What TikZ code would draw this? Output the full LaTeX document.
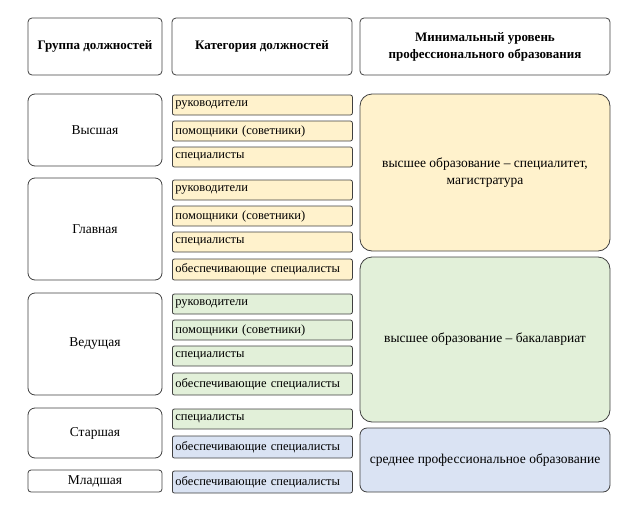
\documentclass[tikz,border=0pt]{standalone}
\usepackage{fontspec}
\setmainfont{Liberation Serif}
\definecolor{ylw}{HTML}{FFF2CC}
\definecolor{grn}{HTML}{E2F0D9}
\definecolor{blu}{HTML}{DAE3F3}
\definecolor{edge}{HTML}{404040}
\tikzset{
  box/.style={draw=edge, line width=0.8pt, rounded corners=3pt, inner sep=0pt, align=center},
  head/.style={box, font=\bfseries\fontsize{13}{17}\selectfont, rounded corners=4pt},
  grp/.style={box, rounded corners=7pt, fill=white},
  cat/.style={box, rounded corners=2pt, anchor=west, minimum width=180pt, minimum height=20pt, inner xsep=3pt, text width=174pt, align=left, font=\fontsize{12.5}{15}\selectfont},
  edu/.style={box, rounded corners=12pt, minimum width=250pt}
}
\begin{document}
\begin{tikzpicture}[x=1pt, y=-1pt, font=\fontsize{13.5}{17}\selectfont]
\useasboundingbox (0,0) rectangle (624,509);
% headers
\node[head, minimum width=134pt, minimum height=57pt] (hgroup) at (95,46.5) {Группа должностей};
\node[head, minimum width=180pt, minimum height=57pt] (hcat) at (262,46.5) {Категория должностей};
\node[head, minimum width=250pt, minimum height=57pt] (hedu) at (485,46.5) {Минимальный уровень\\профессионального образования};
% groups
\node[grp, minimum width=134pt, minimum height=72pt] (top) at (95,130) {Высшая};
\node[grp, minimum width=134pt, minimum height=102pt] (main) at (95,229) {Главная};
\node[grp, minimum width=134pt, minimum height=102pt] (lead) at (95,344) {Ведущая};
\node[grp, minimum width=134pt, minimum height=50pt] (senior) at (95,433) {Старшая};
\node[grp, rounded corners=3pt, minimum width=134pt, minimum height=22pt] (junior) at (95,481) {Младшая};
% categories
\node[cat, fill=ylw] (c1) at (172,105) {руководители};
\node[cat, fill=ylw] (c2) at (172,131) {помощники (советники)};
\node[cat, fill=ylw] (c3) at (172,157) {специалисты};
\node[cat, fill=ylw] (c4) at (172,190) {руководители};
\node[cat, fill=ylw] (c5) at (172,216) {помощники (советники)};
\node[cat, fill=ylw] (c6) at (172,242) {специалисты};
\node[cat, fill=ylw, minimum height=21pt] (c7) at (172,269.5) {обеспечивающие специалисты};
\node[cat, fill=grn] (c8) at (172,304) {руководители};
\node[cat, fill=grn] (c9) at (172,330) {помощники (советники)};
\node[cat, fill=grn] (c10) at (172,356) {специалисты};
\node[cat, fill=grn, minimum height=22pt] (c11) at (172,384) {обеспечивающие специалисты};
\node[cat, fill=grn] (c12) at (172,419) {специалисты};
\node[cat, fill=blu, minimum height=22pt] (c13) at (172,447) {обеспечивающие специалисты};
\node[cat, fill=blu, minimum height=22pt] (c14) at (172,482) {обеспечивающие специалисты};
% education
\node[edu, fill=ylw, minimum height=157pt] (e1) at (485,172.5) {высшее образование – специалитет,\\магистратура};
\node[edu, fill=grn, minimum height=165pt] (e2) at (485,339.5) {высшее образование – бакалавриат};
\node[edu, fill=blu, rounded corners=7pt, minimum height=64pt] (e3) at (485,460) {среднее профессиональное образование};
\end{tikzpicture}
\end{document}
